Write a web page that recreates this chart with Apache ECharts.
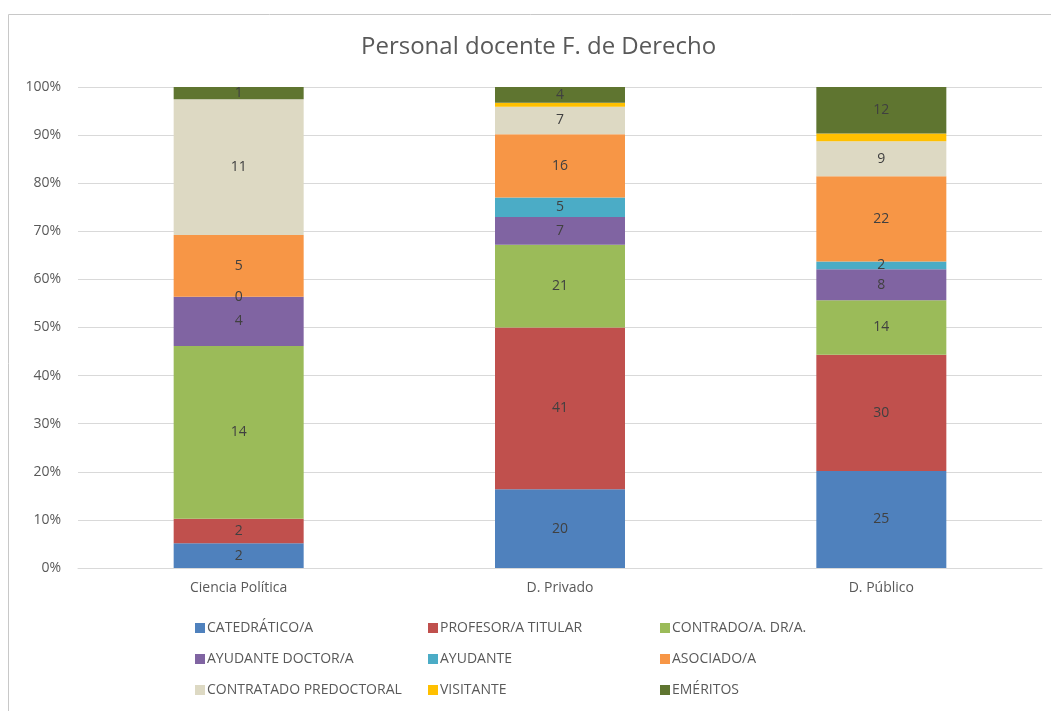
<!DOCTYPE html>
<html>
<head>
<meta charset="utf-8">
<script src="https://cdn.jsdelivr.net/npm/echarts@6/dist/echarts.min.js"></script>
<style>
  html, body { margin: 0; padding: 0; background: #fff; }
  #chart { width: 1051px; height: 711px; }
</style>
</head>
<body>
<div id="chart"></div>
<script>
var categories = ['Ciencia Política', 'D. Privado', 'D. Público'];
var catedratico = [2, 20, 25];
var titular = [2, 41, 30];
var contratadoDr = [14, 21, 14];
var ayudanteDoctor = [4, 7, 8];
var ayudante = [0, 5, 2];
var asociado = [5, 16, 22];
var predoctoral = [11, 7, 9];
var visitante = [null, 1, 2];
var emeritos = [1, 4, 12];

var seriesDefs = [
    { name: 'CATEDRÁTICO/A', data: catedratico, color: '#4F81BD' },
    { name: 'PROFESOR/A TITULAR', data: titular, color: '#C0504D' },
    { name: 'CONTRADO/A. DR/A.', data: contratadoDr, color: '#9BBB59' },
    { name: 'AYUDANTE DOCTOR/A', data: ayudanteDoctor, color: '#8064A2' },
    { name: 'AYUDANTE', data: ayudante, color: '#4BACC6' },
    { name: 'ASOCIADO/A', data: asociado, color: '#F79646' },
    { name: 'CONTRATADO PREDOCTORAL', data: predoctoral, color: '#DDD9C3' },
    { name: 'VISITANTE', data: visitante, color: '#FFC000', noLabel: true },
    { name: 'EMÉRITOS', data: emeritos, color: '#5F7530' }
];

// totals per category, to draw the 100% stack
var totals = categories.map(function (c, i) {
    var t = 0;
    seriesDefs.forEach(function (s) { t += s.data[i] || 0; });
    return t;
});

var myChart = echarts.init(document.getElementById('chart'));

var font = 'Open Sans';

var series = seriesDefs.map(function (s) {
    return {
        name: s.name,
        type: 'bar',
        stack: 'total',
        barWidth: 130,
        itemStyle: { color: s.color },
        label: {
            show: !s.noLabel,
            position: 'inside',
            color: '#404040',
            fontFamily: font,
            fontSize: 14,
            formatter: function (p) { return s.data[p.dataIndex]; }
        },
        data: s.data.map(function (v, i) {
            return v == null ? null : v / totals[i] * 100;
        })
    };
});

function legendCol(left, names) {
    return {
        orient: 'vertical',
        left: left,
        top: 616,
        itemWidth: 10,
        itemHeight: 10,
        itemGap: 17,
        icon: 'rect',
        data: names,
        selectedMode: false,
        textStyle: { color: '#595959', fontFamily: font, fontSize: 14, padding: [0, 0, 0, -3] }
    };
}

var option = {
    animation: false,
    title: {
        text: 'Personal docente F. de Derecho',
        left: 356,
        top: 30,
        textStyle: { color: '#595959', fontFamily: font, fontSize: 24, fontWeight: 'normal' }
    },
    graphic: [{
        type: 'rect',
        shape: { x: 8.5, y: 14.5, width: 1100, height: 800 },
        style: { fill: null, stroke: '#c8c8c8', lineWidth: 1 },
        silent: true
    }],
    legend: [
        legendCol(190, ['CATEDRÁTICO/A', 'AYUDANTE DOCTOR/A', 'CONTRATADO PREDOCTORAL']),
        legendCol(423, ['PROFESOR/A TITULAR', 'AYUDANTE', 'VISITANTE']),
        legendCol(655, ['CONTRADO/A. DR/A.', 'ASOCIADO/A', 'EMÉRITOS'])
    ],
    grid: { left: 78, right: 9, top: 87, bottom: 143 },
    xAxis: {
        type: 'category',
        data: categories,
        axisTick: { show: false },
        axisLine: { lineStyle: { color: '#d9d9d9' } },
        axisLabel: { color: '#595959', fontFamily: font, fontSize: 14, margin: 13 }
    },
    yAxis: {
        type: 'value',
        min: 0,
        max: 100,
        interval: 10,
        axisLabel: { formatter: '{value}%', color: '#595959', fontFamily: font, fontSize: 14, margin: 17 },
        splitLine: { lineStyle: { color: '#d9d9d9' } },
        axisLine: { show: false },
        axisTick: { show: false }
    },
    series: series
};

myChart.setOption(option);
</script>
</body>
</html>
